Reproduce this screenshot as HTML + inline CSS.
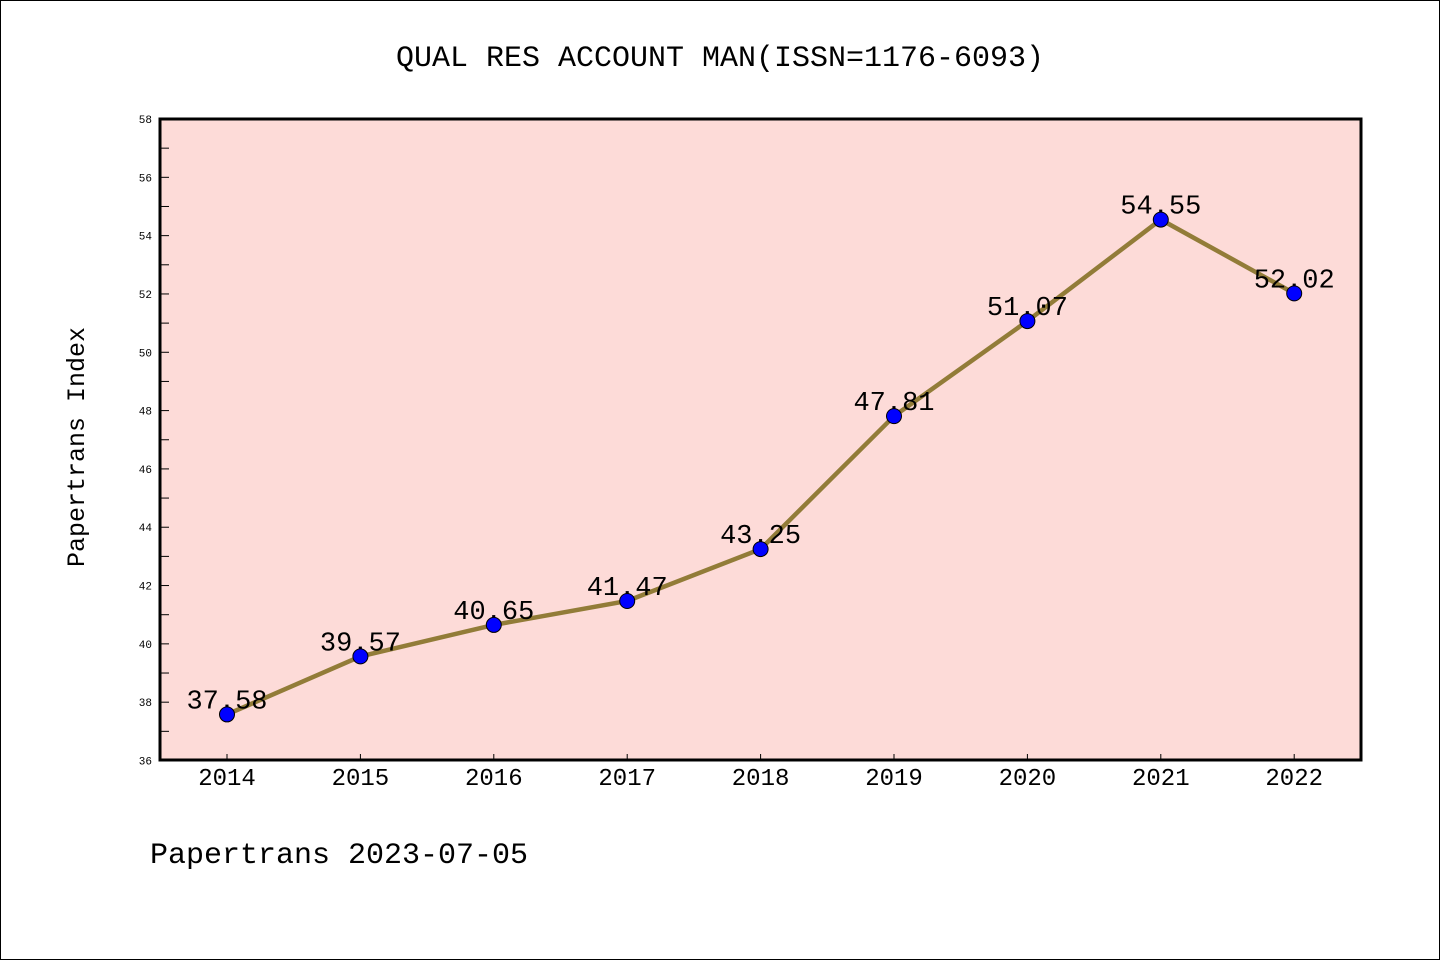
<!DOCTYPE html>
<html><head><meta charset="utf-8"><style>
body{margin:0;background:#fff}
svg{display:block}
text{font-family:"Liberation Mono","DejaVu Sans Mono",monospace}
</style></head><body>
<svg id="c" width="1440" height="960" xmlns="http://www.w3.org/2000/svg">
<rect x="0.5" y="0.5" width="1439" height="959" fill="#fff" stroke="#000"/>
<text x="720" y="66" font-size="30" text-anchor="middle">QUAL RES ACCOUNT MAN(ISSN=1176-6093)</text>
<rect x="160" y="119" width="1201" height="641" fill="#fddbd8"/>
<g id="ticks"></g>
<g id="marks"></g>
<rect x="160" y="119" width="1201" height="641" fill="none" stroke="#000" stroke-width="3"/>
<text transform="translate(84,447) rotate(-90)" font-size="25" text-anchor="middle">Papertrans Index</text>
<text x="150" y="863" font-size="30">Papertrans 2023-07-05</text>
</svg>
<script>
const years=["2014","2015","2016","2017","2018","2019","2020","2021","2022"];
const values=[37.58,39.57,40.65,41.47,43.25,47.81,51.07,54.55,52.02];
const yTicks=[36,38,40,42,44,46,48,50,52,54,56,58];
const NS="http://www.w3.org/2000/svg";
const X=i=>227+i*133.4;
const Y=v=>760.5-(v-36)*(641.5/22);
function mk(t,a,p){const e=document.createElementNS(NS,t);for(const k in a)e.setAttribute(k,a[k]);p.appendChild(e);return e;}
const tg=document.getElementById('ticks'),mg=document.getElementById('marks');
yTicks.forEach((v,i)=>{
 const l=mk('line',{x1:160,x2:169,y1:Y(v),y2:Y(v),stroke:'#000','stroke-width':1},tg);
 
 
 const t=mk('text',{x:152,y:Y(v)+4,'font-size':11,'text-anchor':'end'},tg);t.textContent=v;
 
 
 if(i<yTicks.length-1){const m=mk('line',{x1:160,x2:169,y1:Y(v+1),y2:Y(v+1),stroke:'#000','stroke-width':1},tg);
 
 }
});
years.forEach((y,i)=>{
 const l=mk('line',{x1:X(i),x2:X(i),y1:754,y2:760,stroke:'#000','stroke-width':1},tg);
 
 
 const t=mk('text',{x:X(i),y:785,'font-size':24,'text-anchor':'middle','font-family':'Liberation Sans, sans-serif'},tg);t.textContent=y;
 
 
});
const pl=mk('polyline',{points:values.map((v,i)=>X(i)+','+Y(v)).join(' '),fill:'none',stroke:'#927c38','stroke-width':4.5},mg);


values.forEach((v,i)=>{
 const t=mk('text',{x:X(i),y:Y(v)-6,'font-size':27,'text-anchor':'middle'},mg);t.textContent=v.toFixed(2);
 
 
 const c=mk('circle',{cx:X(i),cy:Y(v),r:7.5,fill:'#0000ff',stroke:'#000','stroke-width':1},mg);
 
 
});
</script>
</body></html>
